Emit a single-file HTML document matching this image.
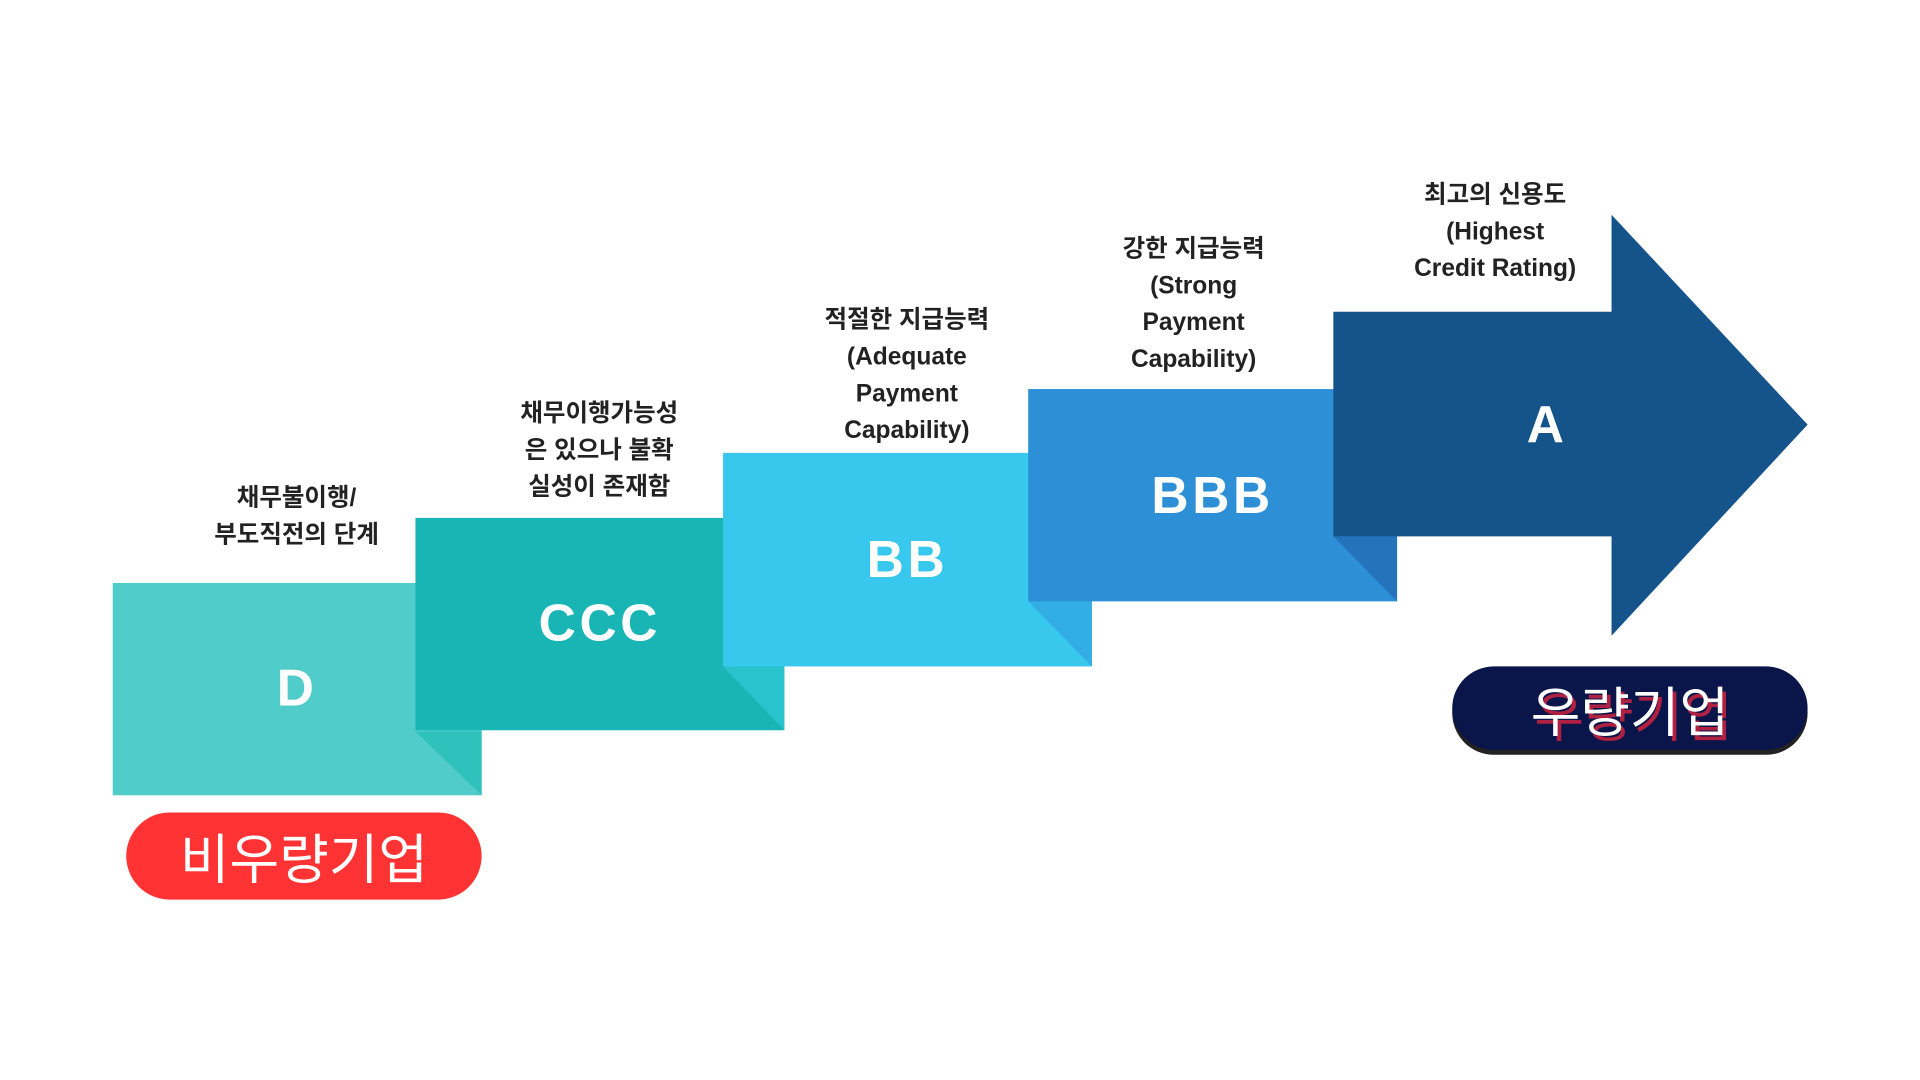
<!DOCTYPE html>
<html><head><meta charset="utf-8"><style>
html,body{margin:0;padding:0;background:#fff;width:1920px;height:1080px;overflow:hidden}
#s{position:absolute;left:0;top:0;width:1560px;height:880px;transform:scale(1.2255,1.2273);transform-origin:0 0}
.t{position:absolute;text-align:center;font-family:"Liberation Sans","Noto Sans CJK KR",sans-serif;font-weight:bold;font-size:20px;line-height:30px;color:#222;width:260px}
.b{position:absolute;font-family:"Liberation Sans","Noto Sans CJK KR",sans-serif;font-weight:bold;color:#fff;font-size:42px;text-align:center;letter-spacing:3px}
.p{position:absolute;font-family:"Noto Sans CJK KR",sans-serif;color:#fff;font-size:44px;text-align:center;border-radius:36px}
</style></head><body><div id="s">
<svg width="1560" height="880" style="position:absolute;left:0;top:0">
<rect x="92" y="475" width="301" height="173" fill="#50cdcb"/>
<polygon points="339,596 393,596 393,648" fill="#2fc1bb"/>
<rect x="339" y="422" width="301" height="173" fill="#19b5b4"/>
<polygon points="590,543 640,543 640,595" fill="#28c3cc"/>
<rect x="590" y="369" width="301" height="174" fill="#38c8ee"/>
<polygon points="839,490 891,490 891,543" fill="#33aee4"/>
<rect x="839" y="317" width="301" height="173" fill="#2d90d6"/>
<polygon points="1088,437 1140,437 1140,490" fill="#2474bc"/>
<polygon points="1088,254 1315,254 1315,175 1475,346 1315,518 1315,437 1088,437" fill="#15538b"/>
</svg>
<div class="t" style="left:112px;top:391px">채무불이행/<br>부도직전의 단계</div>
<div class="t" style="left:359px;top:322px">채무이행가능성<br>은 있으나 불확<br>실성이 존재함</div>
<div class="t" style="left:610px;top:246px">적절한 지급능력<br>(Adequate<br>Payment<br>Capability)</div>
<div class="t" style="left:844px;top:188px">강한 지급능력<br>(Strong<br>Payment<br>Capability)</div>
<div class="t" style="left:1090px;top:144px">최고의 신용도<br>(Highest<br>Credit Rating)</div>
<div class="b" style="left:92px;top:537px;width:301px">D</div>
<div class="b" style="left:339px;top:484px;width:301px">CCC</div>
<div class="b" style="left:590px;top:432px;width:301px">BB</div>
<div class="b" style="left:839px;top:380px;width:301px">BBB</div>
<div class="b" style="left:1112px;top:322px;width:301px">A</div>
<div class="p" style="left:103px;top:662px;width:290px;height:71px;line-height:71px;background:#ff3333">비우량기업</div>
<div class="p" style="left:1185px;top:543px;width:290px;height:68px;line-height:68px;background:#0a154a;box-shadow:0 4px 0 #222;text-shadow:3px 4px 0 #b02040">우량기업</div>
</div></body></html>
